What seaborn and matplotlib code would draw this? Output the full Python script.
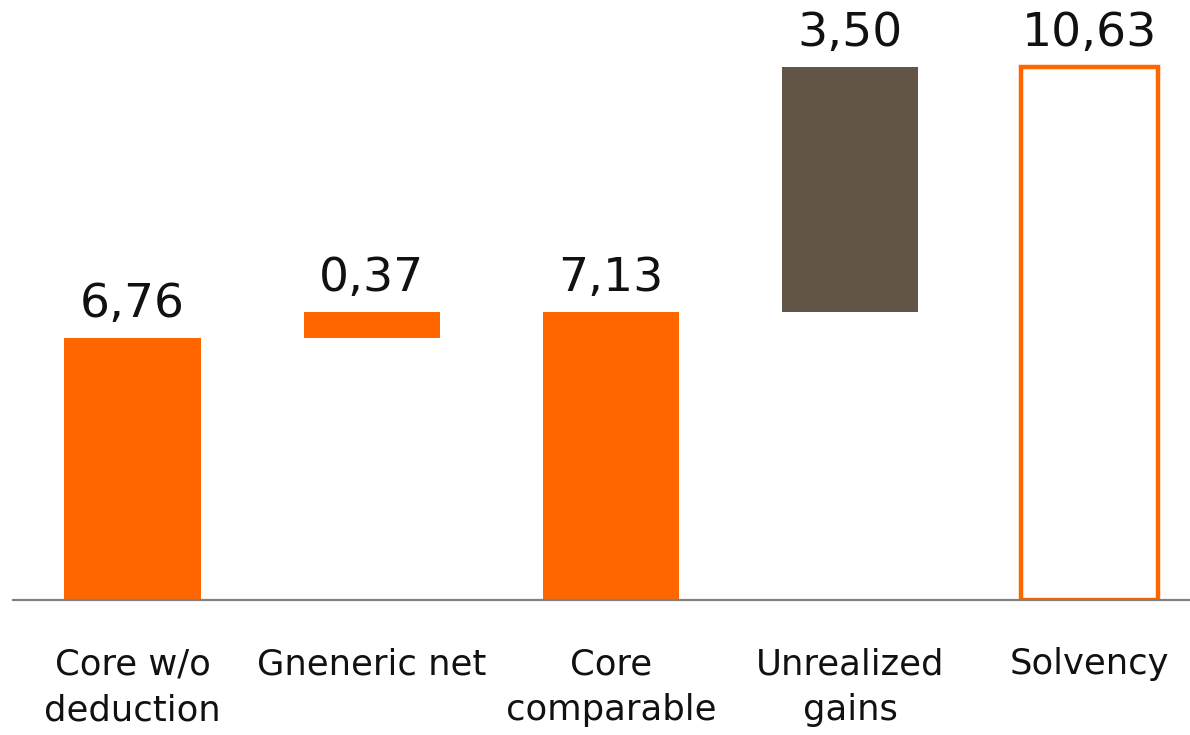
import matplotlib
matplotlib.use("Agg")
import matplotlib.pyplot as plt
import seaborn as sns
import pandas as pd

categories = ["Core w/o\ndeduction", "Gneneric net", "Core\ncomparable", "Unrealized\ngains", "Solvency"]
value_labels = ["6,76", "0,37", "7,13", "3,50", "10,63"]
# bar extents as drawn in the picture (chart is not drawn to scale)
bar_bottom = [0.0, 5.23, 0.0, 5.74, 0.0]
bar_top = [5.23, 5.74, 5.74, 10.63, 10.63]

ORANGE = "#FF6600"
BROWN = "#625548"
face_colors = [ORANGE, ORANGE, ORANGE, BROWN, "#FFFFFF"]

sns.set_theme(style="white")
plt.rcParams["font.family"] = ["DejaVu Sans"]

df = pd.DataFrame({
    "cat": categories,
    "span": [t - b for t, b in zip(bar_top, bar_bottom)],
})

fig = plt.figure(figsize=(11.9, 7.35), dpi=100)
ax = fig.add_axes([13 / 1190, 1 - 600 / 735, 1 - 13 / 1190, 600 / 735])

sns.barplot(data=df, x="cat", y="span", color=ORANGE, width=0.57,
            bottom=bar_bottom, ax=ax, saturation=1)

for i, p in enumerate(ax.patches):
    p.set_facecolor(face_colors[i])
    p.set_linewidth(0)
    if i == 4:
        p.set_edgecolor(ORANGE)
        p.set_linewidth(3.2)
    ax.annotate(value_labels[i], (p.get_x() + p.get_width() / 2, bar_top[i]),
                xytext=(0, 15), textcoords="offset points",
                ha="center", va="baseline", fontsize=34, color="#111111")

ax.set_xlim(-0.5, 4.42)
ax.set_ylim(0, 600 / 50.14)
ax.set_xlabel("")
ax.set_ylabel("")
ax.set_yticks([])
for s in ["top", "right", "left"]:
    ax.spines[s].set_visible(False)
ax.spines["bottom"].set_color("#808080")
ax.spines["bottom"].set_linewidth(1.6)
ax.tick_params(axis="x", length=0, pad=34, labelsize=25.5, labelcolor="#111111")
for t in ax.get_xticklabels():
    t.set_linespacing(1.45)

fig.savefig("out.png", dpi=100)
